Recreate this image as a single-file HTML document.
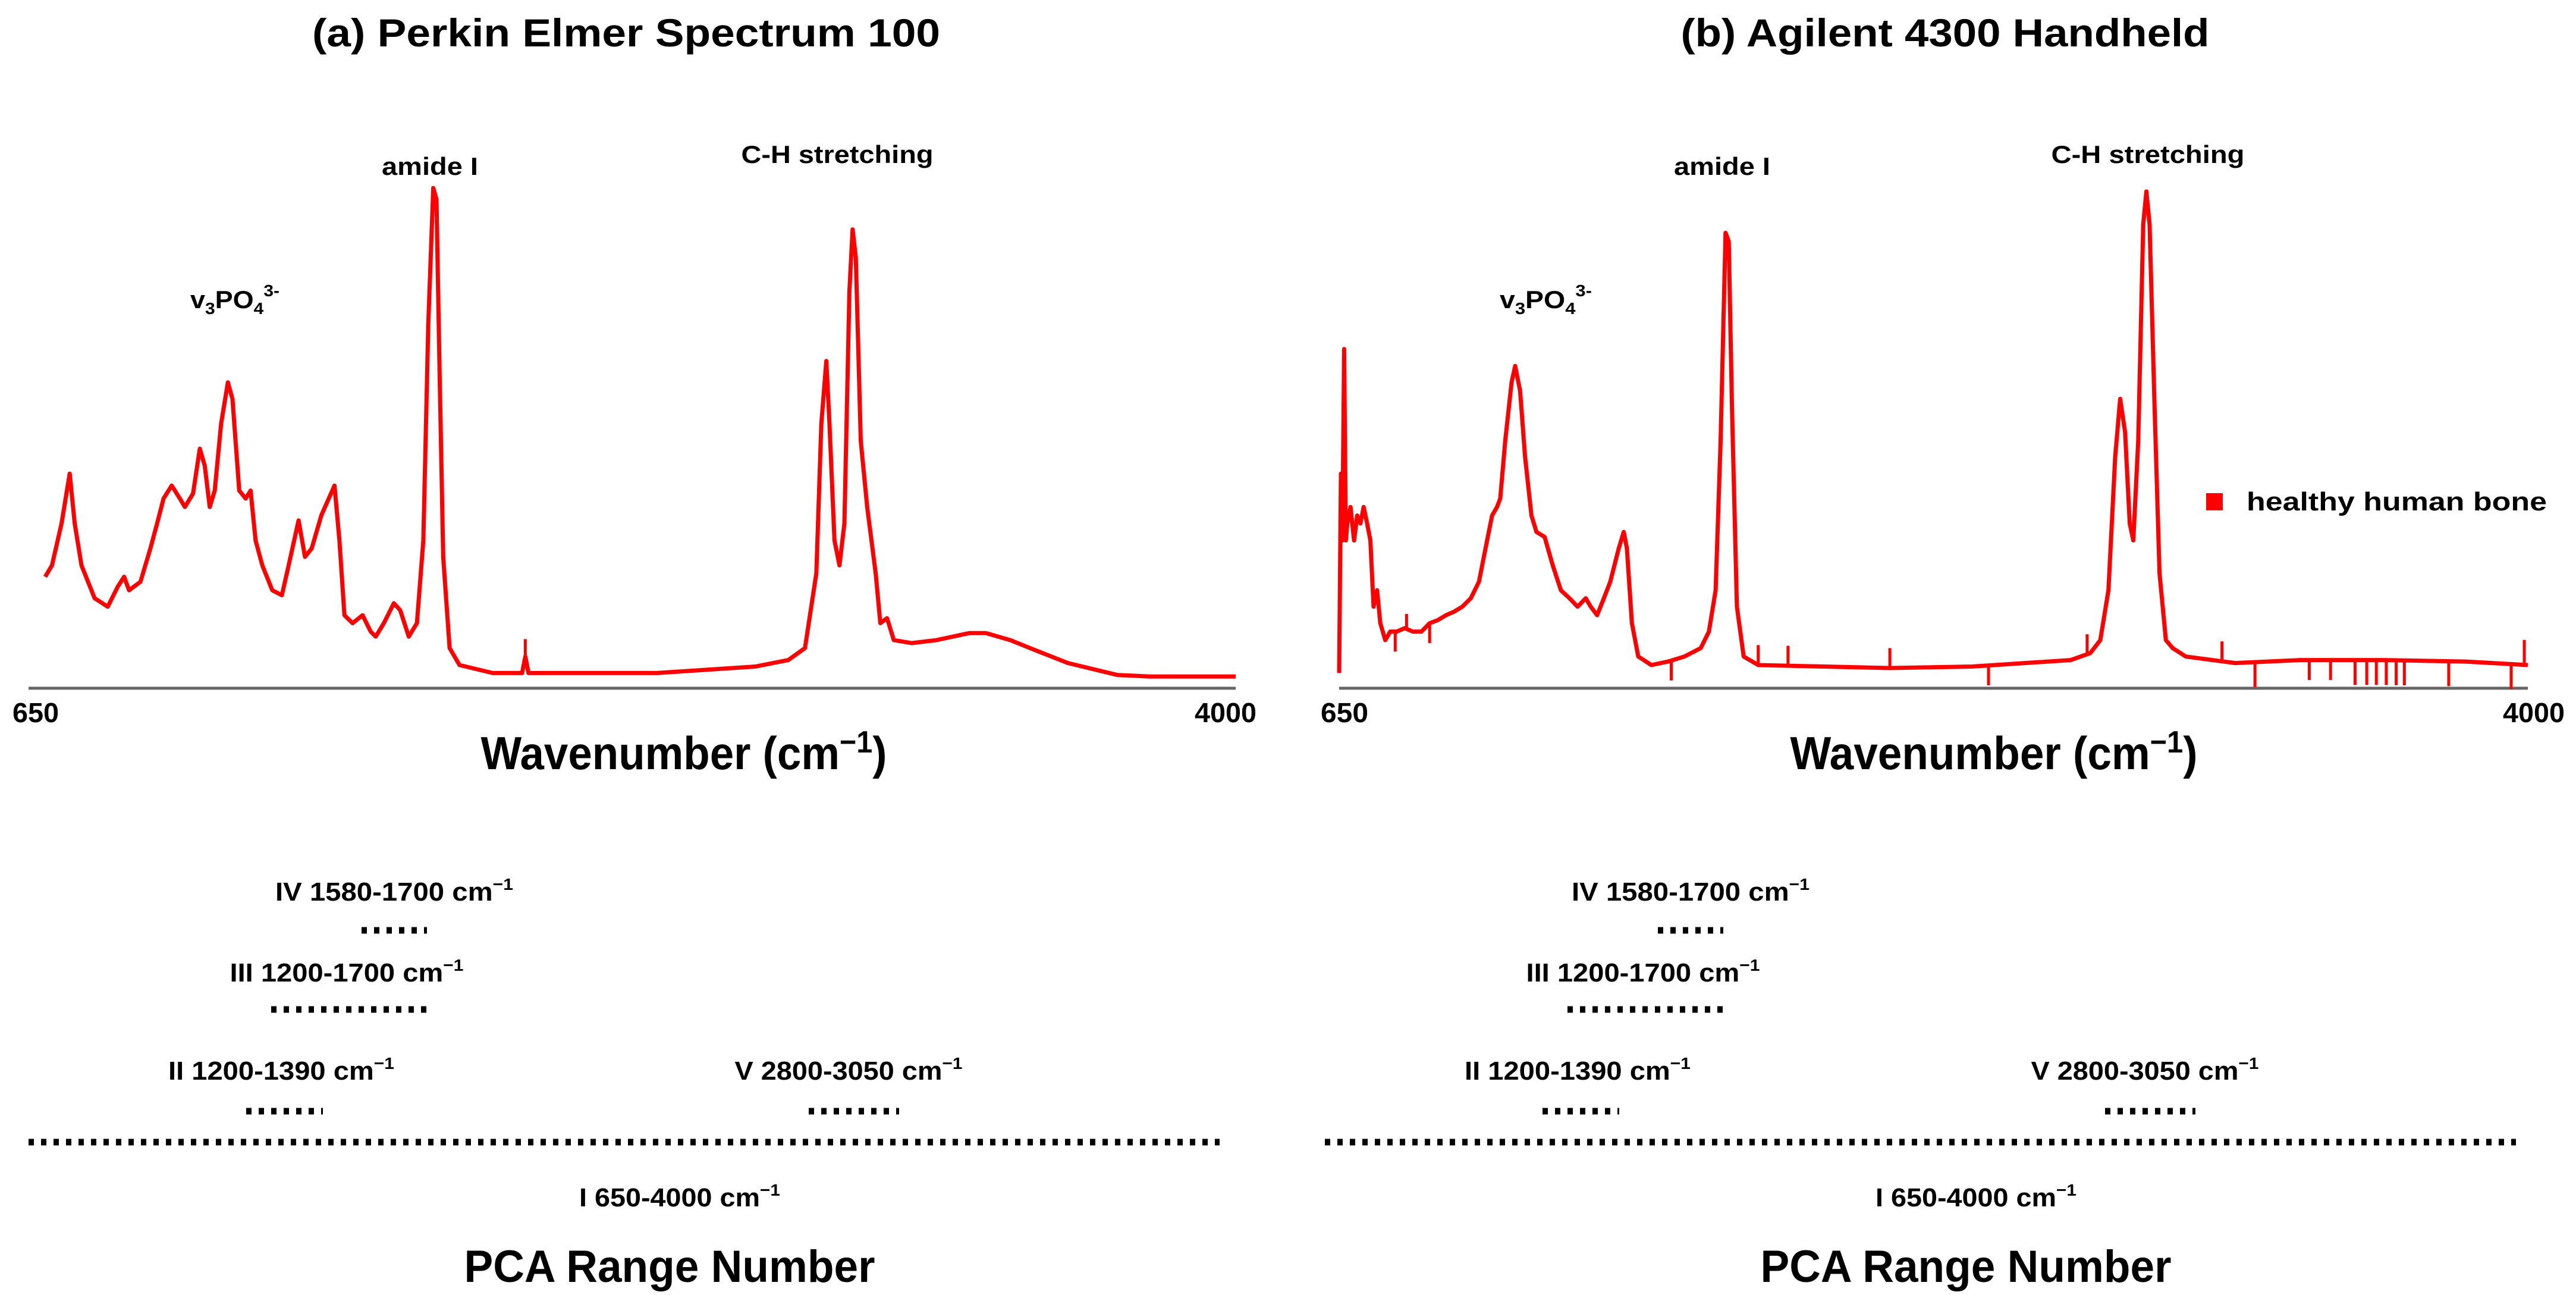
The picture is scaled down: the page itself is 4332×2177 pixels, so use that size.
<!DOCTYPE html>
<html><head><meta charset="utf-8">
<style>
html,body{margin:0;padding:0;background:#fff;}
svg{display:block;}
text{font-family:"Liberation Sans",Arial,sans-serif;font-weight:bold;fill:#000;}
</style></head>
<body>
<svg id="fig" width="4332" height="2177" viewBox="0 0 4332 2177" xmlns="http://www.w3.org/2000/svg">
  <g id="panelA">
    <text x="1053" y="78" font-size="66" text-anchor="middle" textLength="1056" lengthAdjust="spacingAndGlyphs">(a) Perkin Elmer Spectrum 100</text>
    <text x="723" y="294" font-size="42" text-anchor="middle" textLength="162" lengthAdjust="spacingAndGlyphs">amide I</text>
    <text x="1408" y="274" font-size="42" text-anchor="middle" textLength="323" lengthAdjust="spacingAndGlyphs">C-H stretching</text>
    <text x="320" y="518" font-size="42" textLength="150" lengthAdjust="spacingAndGlyphs">v<tspan font-size="28" dy="10">3</tspan><tspan dy="-10">PO</tspan><tspan font-size="28" dy="10">4</tspan><tspan font-size="28" dy="-30">3-</tspan></text>
    <line x1="48" y1="1157" x2="2078" y2="1157" stroke="#666" stroke-width="5"/>
    <text x="60" y="1214" font-size="46" text-anchor="middle" textLength="78" lengthAdjust="spacingAndGlyphs">650</text>
    <text x="2061" y="1214" font-size="46" text-anchor="middle" textLength="104" lengthAdjust="spacingAndGlyphs">4000</text>
    <text x="1150" y="1293" font-size="78" text-anchor="middle" textLength="683" lengthAdjust="spacingAndGlyphs">Wavenumber (cm<tspan font-size="52" dy="-28">−1</tspan><tspan dy="28">)</tspan></text>
  </g>
  <g id="panelB">
    <text x="3271" y="78" font-size="66" text-anchor="middle" textLength="889" lengthAdjust="spacingAndGlyphs">(b) Agilent 4300 Handheld</text>
    <text x="2896" y="294" font-size="42" text-anchor="middle" textLength="162" lengthAdjust="spacingAndGlyphs">amide I</text>
    <text x="3612" y="274" font-size="42" text-anchor="middle" textLength="325" lengthAdjust="spacingAndGlyphs">C-H stretching</text>
    <text x="2522" y="518" font-size="42" textLength="155" lengthAdjust="spacingAndGlyphs">v<tspan font-size="28" dy="10">3</tspan><tspan dy="-10">PO</tspan><tspan font-size="28" dy="10">4</tspan><tspan font-size="28" dy="-30">3-</tspan></text>
    <line x1="2252" y1="1157" x2="4251" y2="1157" stroke="#666" stroke-width="5"/>
    <text x="2261" y="1214" font-size="46" text-anchor="middle" textLength="80" lengthAdjust="spacingAndGlyphs">650</text>
    <text x="4261" y="1214" font-size="46" text-anchor="middle" textLength="104" lengthAdjust="spacingAndGlyphs">4000</text>
    <text x="3353" y="1293" font-size="78" text-anchor="middle" textLength="685" lengthAdjust="spacingAndGlyphs">Wavenumber (cm<tspan font-size="52" dy="-28">−1</tspan><tspan dy="28">)</tspan></text>
    <rect x="3710" y="829" width="28" height="29" fill="#ff0000"/>
    <text x="3778" y="858" font-size="44" textLength="505" lengthAdjust="spacingAndGlyphs">healthy human bone</text>
  </g>
</svg>
<script>
// Panel (a) Perkin Elmer Spectrum 100
const wnA = [650,669,696,719,733,752,789,826,854,872,886,918,946,965,983,1006,1029,1043,1066,1085,1099,1113,1127,1145,1164,1177,1196,1214,1228,1242,1261,1289,1316,1335,1363,1381,1400,1427,1464,1478,1492,1515,1543,1566,1580,1603,1631,1649,1673,1696,1714,1728,1742,1751,1760,1770,1788,1816,1909,1992,2001,2010,2371,2649,2741,2788,2820,2834,2848,2857,2871,2885,2899,2913,2922,2931,2945,2963,2987,3000,3019,3038,3088,3158,3250,3297,3366,3435,3528,3667,3759,4000];
const absA = [.22,.243,.327,.427,.327,.243,.177,.16,.2,.22,.193,.21,.277,.327,.377,.403,.377,.36,.387,.477,.443,.36,.393,.527,.61,.577,.393,.377,.393,.293,.243,.193,.183,.243,.333,.26,.277,.343,.403,.293,.143,.127,.143,.11,.1,.127,.167,.153,.1,.127,.293,.727,1.0,.977,.627,.26,.077,.043,.027,.027,.06,.027,.027,.04,.053,.077,.227,.527,.653,.527,.293,.243,.327,.793,.917,.86,.493,.36,.227,.127,.137,.093,.087,.093,.107,.107,.093,.073,.047,.023,.02,.02];
// Panel (b) Agilent 4300 Handheld
const wnB = [650,655,659,664,669,673,682,692,701,710,719,729,738,747,757,766,780,794,812,835,858,882,905,928,951,974,997,1021,1044,1067,1081,1095,1104,1118,1136,1146,1160,1174,1192,1206,1229,1252,1275,1299,1322,1345,1359,1377,1396,1414,1438,1452,1461,1475,1493,1530,1577,1623,1669,1692,1711,1725,1739,1748,1757,1771,1790,1831,2202,2434,2712,2767,2795,2818,2837,2851,2865,2878,2888,2902,2916,2925,2934,2948,2962,2980,2999,3036,3175,3360,3592,3824,4000];
const absB = [.027,.427,.293,.677,.293,.327,.36,.293,.343,.327,.36,.327,.293,.16,.193,.127,.093,.11,.11,.117,.11,.11,.127,.133,.143,.15,.16,.177,.21,.293,.343,.36,.377,.493,.61,.643,.593,.46,.343,.31,.3,.243,.193,.177,.16,.177,.16,.143,.177,.21,.277,.31,.277,.127,.06,.043,.05,.06,.077,.11,.193,.493,.91,.893,.56,.16,.06,.043,.037,.04,.053,.067,.093,.193,.46,.577,.51,.327,.293,.493,.927,.993,.927,.56,.227,.093,.077,.06,.047,.053,.053,.05,.043];
const spikeWnB = [808,840,905,1586,1831,1915,2202,2480,2758,3138,3231,3384,3444,3513,3546,3573,3601,3629,3652,3777,3953,3990];
const spikeDeltaB = [-.04,.03,-.04,-.04,.04,.04,.04,-.04,.04,.04,-.05,-.04,-.04,-.05,-.05,-.05,-.05,-.05,-.05,-.05,-.05,.05];
const spikeWnA = [2001];

const NS = 'http://www.w3.org/2000/svg';
const Y0 = 1157, YSCALE = 838;
function makeX(px0, px1){ return wn => px0 + (wn - 650) / (4000 - 650) * (px1 - px0); }
const yS = a => Y0 - 3 - a * YSCALE;
function interp(wns, vals, w){
  for (let i = 1; i < wns.length; i++) if (w <= wns[i]) { const t = (w - wns[i-1]) / (wns[i] - wns[i-1]); return vals[i-1] + t * (vals[i] - vals[i-1]); }
  return vals[vals.length-1];
}
function drawSeries(groupId, xS, wns, vals, name){
  const g = document.getElementById(groupId);
  const p = document.createElementNS(NS, 'path');
  p.setAttribute('d', wns.map((w,i) => (i ? 'L' : 'M') + xS(w).toFixed(1) + ' ' + yS(vals[i]).toFixed(1)).join(' '));
  p.setAttribute('fill', 'none'); p.setAttribute('stroke', '#ff0000'); p.setAttribute('stroke-width', '7'); p.setAttribute('stroke-linejoin', 'round');
  
  
  g.appendChild(p);
}
function drawSpikes(groupId, xS, wns, vals, sw, sd){
  const g = document.getElementById(groupId);
  sw.forEach((w, i) => {
    const base = interp(wns, vals, w);
    const l = document.createElementNS(NS, 'line');
    l.setAttribute('x1', xS(w)); l.setAttribute('x2', xS(w));
    l.setAttribute('y1', yS(base)); l.setAttribute('y2', yS(base + sd[i]));
    l.setAttribute('stroke', '#ff0000'); l.setAttribute('stroke-width', '5');
    
    
    g.appendChild(l);
  });
}
const xA = makeX(76, 2078), xB = makeX(2252, 4251);
drawSeries('panelA', xA, wnA, absA, 'spectrum-line-a');
drawSpikes('panelA', xA, wnA, absA, spikeWnA, [0.035]);
drawSeries('panelB', xB, wnB, absB, 'spectrum-line-b');
drawSpikes('panelB', xB, wnB, absB, spikeWnB, spikeDeltaB);

// PCA ranges (bottom panels)
const rangeLabels = ['IV 1580-1700 cm', 'III 1200-1700 cm', 'II 1200-1390 cm', 'V 2800-3050 cm', 'I 650-4000 cm'];
const labelCx = [663, 583, 473, 1427, 1143];
const labelW = [400, 393, 380, 383, 338];
const labelY = [1514, 1650, 1815, 1815, 2028];
const dotX1 = [608, 456, 414, 1360, 48];
const dotX2 = [718, 725, 543, 1512, 2051];
const dotY = [1564, 1697, 1868, 1868, 1920];
const svg = document.getElementById('fig');
[0, 2180].forEach((off, pi) => {
  const g = document.createElementNS(NS, 'g');
  
  
  svg.appendChild(g);
  rangeLabels.forEach((lab, i) => {
    const t = document.createElementNS(NS, 'text');
    t.setAttribute('x', labelCx[i] + off); t.setAttribute('y', labelY[i]);
    t.setAttribute('font-size', '44'); t.setAttribute('text-anchor', 'middle');
    t.setAttribute('textLength', labelW[i]); t.setAttribute('lengthAdjust', 'spacingAndGlyphs');
    t.innerHTML = lab + '<tspan font-size="28" dy="-18">−1</tspan>';
    
    
    g.appendChild(t);
    const l = document.createElementNS(NS, 'line');
    l.setAttribute('x1', dotX1[i] + off); l.setAttribute('x2', dotX2[i] + off);
    l.setAttribute('y1', dotY[i]); l.setAttribute('y2', dotY[i]);
    l.setAttribute('stroke', '#000'); l.setAttribute('stroke-width', '11'); l.setAttribute('stroke-dasharray', '9 12');
    
    
    g.appendChild(l);
  });
  const tt = document.createElementNS(NS, 'text');
  tt.setAttribute('x', 1126 + off); tt.setAttribute('y', 2155);
  tt.setAttribute('font-size', '76'); tt.setAttribute('text-anchor', 'middle');
  tt.setAttribute('textLength', '691'); tt.setAttribute('lengthAdjust', 'spacingAndGlyphs');
  tt.textContent = 'PCA Range Number';
  
  
  g.appendChild(tt);
});
</script>
</body></html>
